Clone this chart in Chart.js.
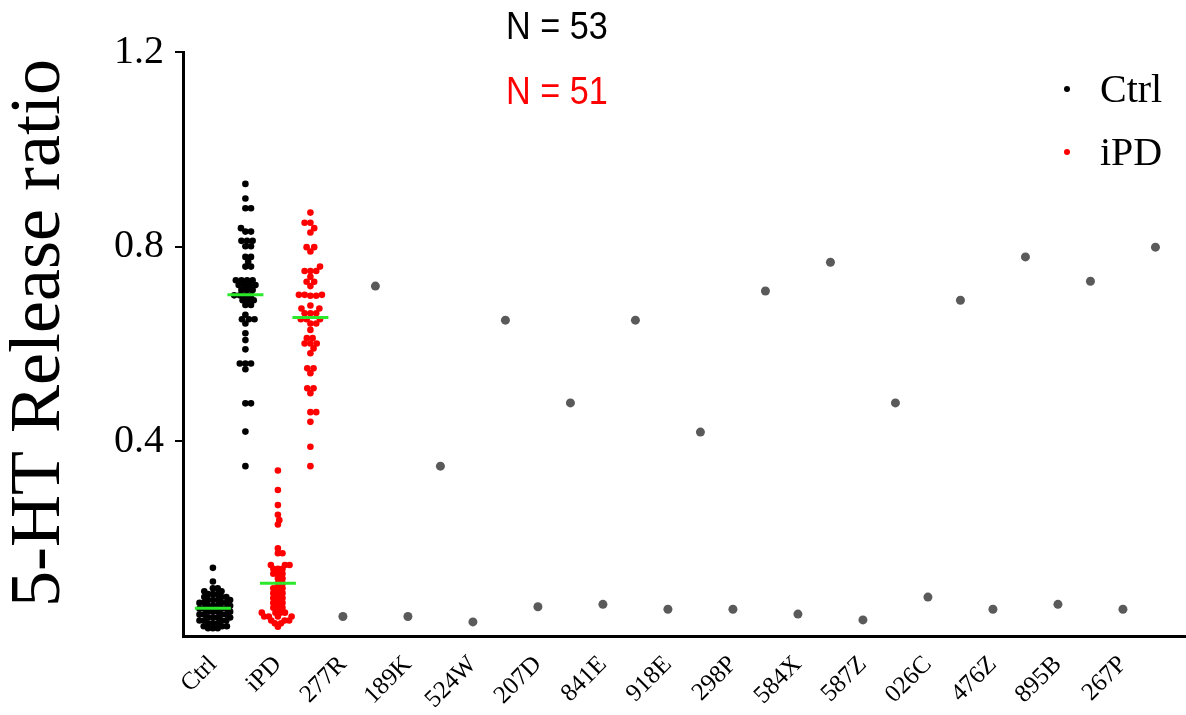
<!DOCTYPE html>
<html>
<head>
<meta charset="utf-8">
<script src="https://cdn.jsdelivr.net/npm/chart.js@4.4.1/dist/chart.umd.min.js"></script>
<style>
  html, body { margin: 0; padding: 0; background: #fff; overflow: hidden; }
  /* a little wider than the window: the x-axis runs off the right edge like the original */
  #wrap { width: 1207px; height: 715px; }
</style>
</head>
<body>
<div id="wrap"><canvas id="chart"></canvas></div>
<script>
const categories = ['Ctrl', 'iPD', '277R', '189K', '524W', '207D', '841E', '918E', '298P', '584X', '587Z', '026C', '476Z', '895B', '267P'];

// baseline / stimulated release ratio, one value per line
const ctrlBase = [0.140, 0.112,
  0.098, 0.098, 0.092, 0.092, 0.086, 0.086, 0.086, 0.080, 0.080, 0.080,
  0.074, 0.074, 0.074, 0.074, 0.068, 0.068, 0.068, 0.068, 0.062, 0.062, 0.062, 0.062,
  0.056, 0.056, 0.056, 0.056, 0.050, 0.050, 0.050, 0.050, 0.044, 0.044, 0.044, 0.044,
  0.038, 0.038, 0.038, 0.038, 0.032, 0.032, 0.032, 0.032, 0.026, 0.026, 0.026,
  0.020, 0.020, 0.020, 0.016, 0.016, 0.016];
const ctrlStim = [0.929, 0.899, 0.879, 0.879, 0.838, 0.831, 0.831, 0.812, 0.812, 0.812,
  0.801, 0.801, 0.779, 0.779, 0.769, 0.759, 0.759, 0.731, 0.731, 0.731, 0.731,
  0.721, 0.721, 0.721, 0.721, 0.711, 0.711, 0.711, 0.700, 0.700, 0.700, 0.700,
  0.690, 0.690, 0.690, 0.680, 0.680, 0.660, 0.651, 0.651, 0.651, 0.642, 0.622,
  0.608, 0.589, 0.560, 0.560, 0.560, 0.548, 0.478, 0.478, 0.420, 0.349];
const ipdBase = [0.340, 0.300, 0.269, 0.249, 0.238, 0.229, 0.180, 0.170, 0.170,
  0.146, 0.146, 0.146, 0.138, 0.138, 0.138, 0.128, 0.128, 0.128, 0.118, 0.118,
  0.108, 0.108, 0.098, 0.098, 0.098, 0.088, 0.088, 0.088, 0.078, 0.078, 0.078,
  0.068, 0.068, 0.068, 0.058, 0.058, 0.058, 0.048, 0.048, 0.048, 0.048,
  0.040, 0.040, 0.040, 0.040, 0.032, 0.032, 0.032, 0.026, 0.026, 0.019];
const ipdStim = [0.870, 0.849, 0.849, 0.838, 0.829, 0.799, 0.799, 0.790, 0.759,
  0.750, 0.750, 0.750, 0.738, 0.728, 0.728, 0.719, 0.701, 0.701, 0.701, 0.699, 0.699,
  0.679, 0.673, 0.673, 0.663, 0.663, 0.663, 0.651, 0.651, 0.651, 0.642, 0.642,
  0.629, 0.612, 0.612, 0.601, 0.601, 0.601, 0.591, 0.581, 0.550, 0.550, 0.540,
  0.509, 0.509, 0.499, 0.460, 0.460, 0.440, 0.389, 0.349];

// single lines 277R ... 267P
const lineBase = [0.040, 0.040, 0.029, 0.060, 0.065, 0.055, 0.055, 0.045, 0.033, 0.080, 0.055, 0.065, 0.055];
const lineStim = [0.719, 0.349, 0.649, 0.479, 0.649, 0.419, 0.709, 0.768, 0.479, 0.690, 0.779, 0.729, 0.799];

const yTicks = [0.4, 0.8, 1.2];
const nLabels = ['N = 53', 'N = 51'];
const groupNames = ['Ctrl', 'iPD'];

const PX_X = 65, PX_Y = 487;
const SERIF = "'Liberation Serif', 'Times New Roman', serif";

// simple beeswarm, spacing in pixels
function swarm(values, center, dot) {
  const sorted = values.slice().sort((a, b) => a - b);
  const placed = [];
  const out = [];
  sorted.forEach(v => {
    const y = v * PX_Y;
    const near = placed.filter(p => Math.abs(p.y - y) < dot);
    const cands = [0];
    near.forEach(p => {
      const dx = Math.sqrt(dot * dot - (p.y - y) * (p.y - y));
      cands.push(p.x + dx, p.x - dx);
    });
    cands.sort((a, b) => Math.abs(a) - Math.abs(b));
    let x = 0;
    for (const c of cands) {
      if (near.every(p => (p.x - c) ** 2 + (p.y - y) ** 2 >= dot * dot - 0.01)) { x = c; break; }
    }
    placed.push({x: x, y: y});
    out.push({x: center + x / PX_X, y: v});
  });
  return out;
}

function mean(a) {
  return a.reduce((s, v) => s + v, 0) / a.length;
}

const ctrlPoints = swarm(ctrlBase, 0, 4.8).concat(swarm(ctrlStim, 0.5, 5.6));
const ipdPoints = swarm(ipdBase, 1, 4.6).concat(swarm(ipdStim, 1.5, 5.8));
const meanPoints = [
  {x: 0, y: mean(ctrlBase)}, {x: 0.5, y: mean(ctrlStim)},
  {x: 1, y: mean(ipdBase)}, {x: 1.5, y: mean(ipdStim)}
];
const linePoints = [];
for (let i = 0; i < lineBase.length; i++) {
  linePoints.push({x: i + 2, y: lineBase[i]});
  linePoints.push({x: i + 2.5, y: lineStim[i]});
}

const overlay = {
  id: 'overlay',
  afterDraw(chart) {
    const ctx = chart.ctx;
    ctx.save();
    // axis title
    ctx.translate(59, 333);
    ctx.rotate(-Math.PI / 2);
    ctx.font = '72px ' + SERIF;
    ctx.fillStyle = '#000';
    ctx.textAlign = 'center';
    ctx.textBaseline = 'alphabetic';
    ctx.fillText('5-HT Release ratio', 0, 0);
    ctx.restore();

    // N counts, slightly condensed like the original
    ctx.save();
    ctx.font = "38px 'Liberation Sans', Arial, sans-serif";
    ctx.textAlign = 'left';
    ctx.textBaseline = 'middle';
    ctx.translate(506, 0);
    ctx.scale(0.9, 1);
    ctx.fillStyle = '#000';
    ctx.fillText(nLabels[0], 0, 29);
    ctx.fillStyle = '#ff0000';
    ctx.fillText(nLabels[1], 0, 94);
    ctx.restore();

    // legend
    ctx.save();
    const colors = ['#000000', '#ff0000'];
    ctx.font = '40px ' + SERIF;
    ctx.textAlign = 'left';
    ctx.textBaseline = 'middle';
    groupNames.forEach((name, i) => {
      const y = 89 + i * 63;
      ctx.fillStyle = colors[i];
      ctx.beginPath();
      ctx.arc(1067, y, 3, 0, Math.PI * 2);
      ctx.fill();
      ctx.fillStyle = '#000';
      ctx.fillText(name, 1100, y + 2);
    });
    ctx.restore();
  }
};

new Chart(document.getElementById('chart'), {
  type: 'scatter',
  data: {
    datasets: [
      {
        label: 'mean',
        data: meanPoints,
        pointStyle: 'line',
        pointRadius: 18,
        borderColor: '#2be82b',
        borderWidth: 3,
        backgroundColor: '#2be82b'
      },
      {
        label: 'Ctrl',
        data: ctrlPoints,
        pointRadius: 3.3,
        borderWidth: 0,
        backgroundColor: '#000000'
      },
      {
        label: 'iPD',
        data: ipdPoints,
        pointRadius: 3.3,
        borderWidth: 0,
        backgroundColor: '#ff0000'
      },
      {
        label: 'lines',
        data: linePoints,
        pointRadius: 4.5,
        borderWidth: 0,
        backgroundColor: '#5a5a5a'
      }
    ]
  },
  options: {
    responsive: true,
    maintainAspectRatio: false,
    animation: false,
    layout: { padding: { top: 52, right: 0, left: 0, bottom: 0 } },
    plugins: {
      legend: { display: false },
      tooltip: { enabled: false }
    },
    scales: {
      x: {
        type: 'linear',
        min: -0.46,
        max: 14.97,
        afterBuildTicks: function(scale) {
          scale.ticks = categories.map((c, i) => ({value: i}));
        },
        afterFit: function(scale) { scale.height = 79; },
        ticks: {
          autoSkip: false,
          minRotation: 45,
          maxRotation: 45,
          padding: 6,
          color: '#000',
          font: { family: SERIF, size: 25 },
          callback: function(v) { return categories[v]; }
        },
        grid: { display: false },
        border: { display: true, color: '#000', width: 3 }
      },
      y: {
        type: 'linear',
        min: 0,
        max: 1.2,
        afterBuildTicks: function(scale) {
          scale.ticks = yTicks.map(v => ({value: v}));
        },
        afterFit: function(scale) { scale.width = 183; },
        ticks: {
          color: '#000',
          padding: 11,
          font: { family: SERIF, size: 40 },
          callback: function(v) { return v.toFixed(1); }
        },
        grid: { drawOnChartArea: false, drawTicks: true, tickLength: 8, color: '#000', lineWidth: 2 },
        border: { display: true, color: '#000', width: 3 }
      }
    }
  },
  plugins: [overlay]
});
</script>
</body>
</html>
